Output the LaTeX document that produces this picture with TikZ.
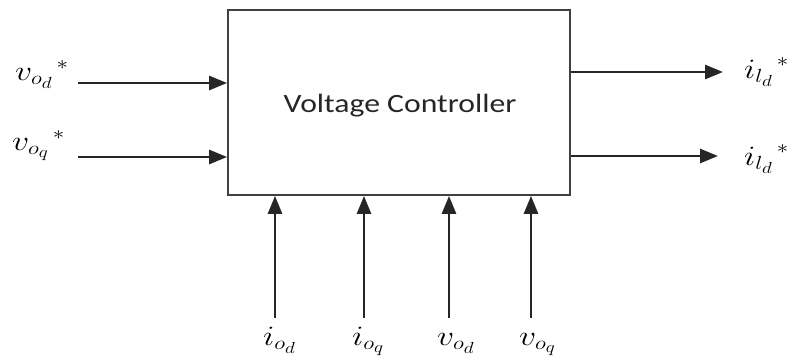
\RequirePackage{fix-cm}
\documentclass[tikz,border=0pt]{standalone}
\usepackage{fontspec}
\usepackage{graphicx}
\newfontfamily\carlito{Carlito}
\usetikzlibrary{arrows.meta}
\DeclareMathSizes{28}{28}{19}{16}
\newcommand{\mlab}[1]{\scalebox{1.2}[1]{$#1$}}
\begin{document}
\begin{tikzpicture}[x=1pt,y=-1pt,
  sig/.style={line width=2.8pt,draw=black!85,-{Triangle[length=18pt,width=14pt]}},
  lab/.style={inner sep=0pt,anchor=base west,font=\fontsize{28}{30}\selectfont}]
\useasboundingbox (0,0) rectangle (793,360);
\node[draw=black!75, line width=1.8pt, minimum width=342pt, minimum height=185pt, inner sep=0pt] (box) at (399,102.5) {};
\node[font=\carlito\fontsize{26.4}{30}\selectfont, text=black!85, inner sep=0pt, anchor=base] (title) at (400,112) {\scalebox{1.2}[1]{Voltage Controller}};
% inputs left
\coordinate (a1) at (78,83);
\coordinate (a2) at (78,157);
\draw[sig] (a1) -- (a1 -| box.west);
\draw[sig] (a2) -- (a2 -| box.west);
\node[lab] (l1) at (15,80) {\mlab{{v_{o_{d}}}^{\,*}}};
\node[lab] (l2) at (12,150) {\mlab{{v_{o_{q}}}^{\,*}}};
% outputs right
\coordinate (b1) at (723,72);
\coordinate (b2) at (718,156);
\draw[sig] (b1 -| box.east) -- (b1);
\draw[sig] (b2 -| box.east) -- (b2);
\node[lab] (r1) at (744,78) {\mlab{{i_{l_{d}}}^{\,*}}};
\node[lab] (r2) at (744,165) {\mlab{{i_{l_{d}}}^{\,*}}};
% inputs bottom
\coordinate (c1) at (275,318);
\coordinate (c2) at (364,318);
\coordinate (c3) at (449,318);
\coordinate (c4) at (531,318);
\foreach \c in {c1,c2,c3,c4} \draw[sig] (\c) -- (\c |- box.south);
\node[lab] (m1) at (263,345) {\mlab{i_{o_{d}}}};
\node[lab] (m2) at (352,345) {\mlab{i_{o_{q}}}};
\node[lab] (m3) at (437,345) {\mlab{v_{o_{d}}}};
\node[lab] (m4) at (519,345) {\mlab{v_{o_{q}}}};
\end{tikzpicture}
\end{document}
